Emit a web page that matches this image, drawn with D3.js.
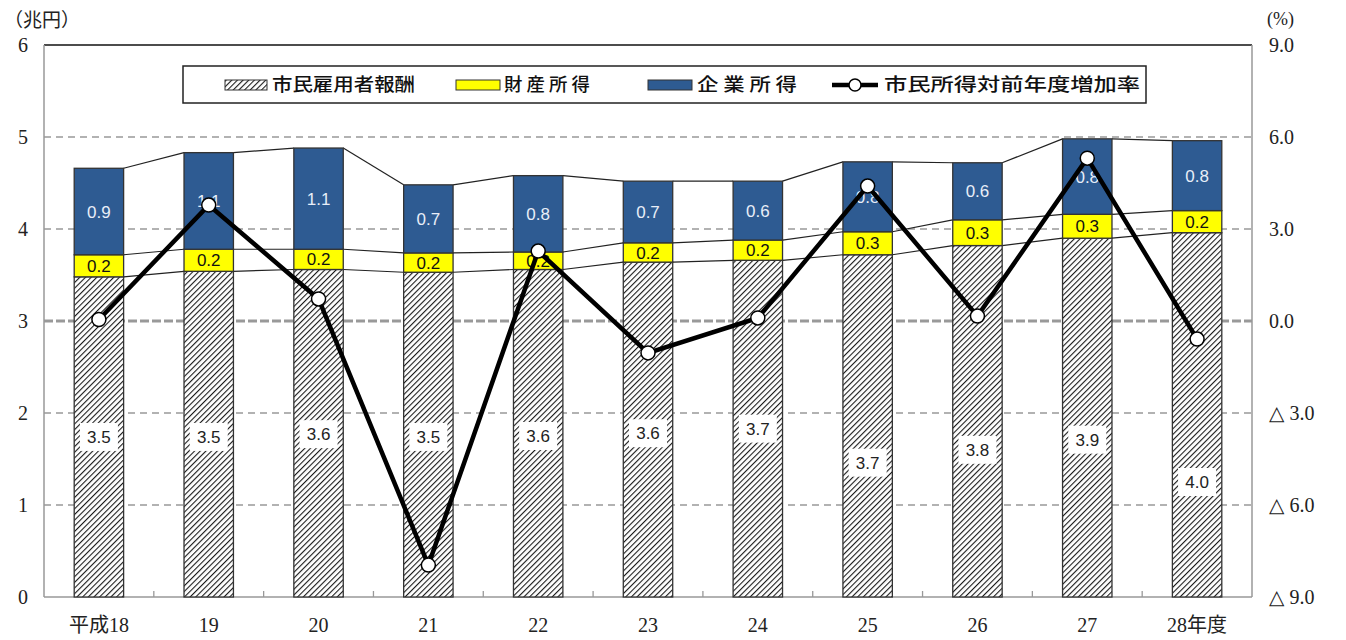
<!DOCTYPE html>
<html>
<head>
<meta charset="utf-8">
<script src="https://cdn.jsdelivr.net/npm/d3@7"></script>
<style>
  body { margin: 0; background: #fff; }
  svg { display: block; }
</style>
</head>
<body>
<script>
// fiscal years
var years = ["平成18", "19", "20", "21", "22", "23", "24", "25", "26", "27", "28年度"];
// 兆円
var compensation = [3.48, 3.54, 3.56, 3.53, 3.56, 3.64, 3.66, 3.72, 3.82, 3.90, 3.96];
var property = [0.24, 0.24, 0.22, 0.21, 0.19, 0.21, 0.22, 0.25, 0.28, 0.26, 0.24];
var corporate = [0.94, 1.05, 1.10, 0.74, 0.83, 0.67, 0.64, 0.76, 0.62, 0.82, 0.76];
// %
var growth = [0.05, 3.78, 0.72, -7.96, 2.28, -1.04, 0.10, 4.40, 0.16, 5.31, -0.59];
var leftTicks = [0, 1, 2, 3, 4, 5, 6];
var rightTicks = [-9, -6, -3, 0, 3, 6, 9];
var legendNames = ["市民雇用者報酬", "財 産 所 得", "企 業 所 得", "市民所得対前年度増加率"];

// where the hatched-bar labels sit (兆円 units), moved off the line like the original
var compLabelAt = [1.74, 1.74, 1.77, 1.74, 1.75, 1.78, 1.83, 1.46, 1.60, 1.71, 1.25];

var width = 1346, height = 640;
var plotL = 44, plotR = 1252, plotT = 45, plotB = 597;

var svg = d3.select("body").append("svg")
    .attr("width", width)
    .attr("height", height);

var defs = svg.append("defs");
var hatch = defs.append("pattern")
    .attr("id", "hatch")
    .attr("patternUnits", "userSpaceOnUse")
    .attr("width", 4)
    .attr("height", 4)
    .attr("patternTransform", "rotate(45)");
hatch.append("rect").attr("width", 4).attr("height", 4).attr("fill", "#fff");
hatch.append("line")
    .attr("x1", 0).attr("y1", 0).attr("x2", 0).attr("y2", 4)
    .attr("stroke", "#1a1a1a").attr("stroke-width", 2.2);

var x = d3.scaleBand().domain(years).range([plotL, plotR]).paddingInner(0.55).paddingOuter(0.275);
var y = d3.scaleLinear().domain([0, 6]).range([plotB, plotT]);
var y2 = d3.scaleLinear().domain([-9, 9]).range([plotB, plotT]);

var serif = "'Liberation Serif', 'DejaVu Serif', 'Noto Sans CJK JP', serif";
var gothic = "'Noto Sans CJK JP', sans-serif";
var sans = "'Liberation Sans', Arial, sans-serif";

// grid
svg.append("g").selectAll("line")
    .data([1, 2, 4, 5])
    .enter().append("line")
    .attr("x1", plotL).attr("x2", plotR)
    .attr("y1", function (d) { return y(d); })
    .attr("y2", function (d) { return y(d); })
    .attr("stroke", "#999")
    .attr("stroke-width", 1.3)
    .attr("stroke-dasharray", "7,5");
svg.append("line")
    .attr("x1", plotL).attr("x2", plotR)
    .attr("y1", y2(0)).attr("y2", y2(0))
    .attr("stroke", "#999")
    .attr("stroke-width", 3)
    .attr("stroke-dasharray", "9,3");

// frame
svg.append("line").attr("x1", plotL).attr("x2", plotR).attr("y1", plotT).attr("y2", plotT)
    .attr("stroke", "#111").attr("stroke-width", 1.5);
svg.append("line").attr("x1", plotL).attr("x2", plotL).attr("y1", plotT).attr("y2", plotB)
    .attr("stroke", "#999").attr("stroke-width", 1.5);
svg.append("line").attr("x1", plotR).attr("x2", plotR).attr("y1", plotT).attr("y2", plotB)
    .attr("stroke", "#999").attr("stroke-width", 1.5);
svg.append("line").attr("x1", plotL).attr("x2", plotR).attr("y1", plotB).attr("y2", plotB)
    .attr("stroke", "#999").attr("stroke-width", 1.5);

// small ticks between categories
var step = x.step();
svg.append("g").selectAll("line")
    .data(years.slice(1))
    .enter().append("line")
    .attr("x1", function (d) { return x(d) + x.bandwidth() / 2 - step / 2; })
    .attr("x2", function (d) { return x(d) + x.bandwidth() / 2 - step / 2; })
    .attr("y1", plotB).attr("y2", plotB - 6)
    .attr("stroke", "#999").attr("stroke-width", 1.3);

// stacks
var rows = years.map(function (yr, i) {
    return { year: yr, comp: compensation[i], prop: property[i], corp: corporate[i] };
});
var stack = d3.stack().keys(["comp", "prop", "corp"])(rows);
var fills = { comp: "url(#hatch)", prop: "#ffff00", corp: "#2e5b92" };

// connector lines between neighbouring bars
stack.forEach(function (layer) {
    var seg = [];
    for (var i = 0; i < layer.length - 1; i++) {
        seg.push({ a: layer[i], b: layer[i + 1], ya: years[i], yb: years[i + 1] });
    }
    svg.append("g").selectAll("line")
        .data(seg)
        .enter().append("line")
        .attr("x1", function (d) { return x(d.ya) + x.bandwidth(); })
        .attr("x2", function (d) { return x(d.yb); })
        .attr("y1", function (d) { return y(d.a[1]); })
        .attr("y2", function (d) { return y(d.b[1]); })
        .attr("stroke", "#222")
        .attr("stroke-width", 1.2);
});

svg.append("g").selectAll("g")
    .data(stack)
    .enter().append("g")
    .attr("fill", function (d) { return fills[d.key]; })
    .selectAll("rect")
    .data(function (d) { return d; })
    .enter().append("rect")
    .attr("x", function (d) { return x(d.data.year); })
    .attr("width", x.bandwidth())
    .attr("y", function (d) { return y(d[1]); })
    .attr("height", function (d) { return y(d[0]) - y(d[1]); })
    .attr("stroke", "#333")
    .attr("stroke-width", 1.3);

// labels
var cx = function (yr) { return x(yr) + x.bandwidth() / 2; };

var compLab = svg.append("g").selectAll("g")
    .data(rows)
    .enter().append("g")
    .attr("transform", function (d, i) { return "translate(" + cx(d.year) + "," + y(compLabelAt[i]) + ")"; });
compLab.append("rect")
    .attr("x", -19).attr("y", -14).attr("width", 38).attr("height", 28)
    .attr("fill", "#fff");
compLab.append("text")
    .attr("text-anchor", "middle")
    .attr("dy", "0.36em")
    .attr("font-family", sans)
    .attr("font-size", 17)
    .attr("fill", "#222")
    .text(function (d) { return d.comp.toFixed(1); });

svg.append("g").selectAll("text")
    .data(stack[1])
    .enter().append("text")
    .attr("x", function (d) { return cx(d.data.year); })
    .attr("y", function (d) { return y((d[0] + d[1]) / 2); })
    .attr("text-anchor", "middle")
    .attr("dy", "0.36em")
    .attr("font-family", sans)
    .attr("font-size", 17)
    .attr("fill", "#111")
    .text(function (d) { return d.data.prop.toFixed(1); });

svg.append("g").selectAll("text")
    .data(stack[2])
    .enter().append("text")
    .attr("x", function (d) { return cx(d.data.year); })
    .attr("y", function (d) { return y((d[0] + d[1]) / 2); })
    .attr("text-anchor", "middle")
    .attr("dy", "0.36em")
    .attr("font-family", sans)
    .attr("font-size", 17)
    .attr("fill", "#e8eef8")
    .text(function (d) { return d.data.corp.toFixed(1); });

// growth line
var line = d3.line()
    .x(function (d, i) { return cx(years[i]); })
    .y(function (d) { return y2(d); });
svg.append("path")
    .datum(growth)
    .attr("d", line)
    .attr("fill", "none")
    .attr("stroke", "#000")
    .attr("stroke-width", 4.5);
svg.append("g").selectAll("circle")
    .data(growth)
    .enter().append("circle")
    .attr("cx", function (d, i) { return cx(years[i]); })
    .attr("cy", function (d) { return y2(d); })
    .attr("r", 7)
    .attr("fill", "#fff")
    .attr("stroke", "#000")
    .attr("stroke-width", 1.5);

// axes text
svg.append("g").selectAll("text")
    .data(leftTicks)
    .enter().append("text")
    .attr("x", 28)
    .attr("y", function (d) { return y(d); })
    .attr("dy", "0.35em")
    .attr("text-anchor", "end")
    .attr("font-family", serif)
    .attr("font-size", 20)
    .attr("fill", "#222")
    .text(function (d) { return d; });

svg.append("g").selectAll("text")
    .data(rightTicks)
    .enter().append("text")
    .attr("x", 1269)
    .attr("y", function (d) { return y2(d); })
    .attr("dy", "0.35em")
    .attr("font-family", serif)
    .attr("font-size", 20)
    .attr("fill", "#222")
    .text(function (d) {
        return d < 0 ? "△ " + Math.abs(d).toFixed(1) : d.toFixed(1);
    });

svg.append("g").selectAll("text")
    .data(years)
    .enter().append("text")
    .attr("x", function (d) { return cx(d); })
    .attr("y", 632)
    .attr("text-anchor", "middle")
    .attr("font-family", serif)
    .attr("font-size", 20)
    .attr("fill", "#222")
    .text(function (d) { return d; });

svg.append("text")
    .attr("x", 4).attr("y", 27)
    .attr("font-family", serif)
    .attr("font-size", 19)
    .attr("fill", "#222")
    .text("（兆円）");
svg.append("text")
    .attr("x", 1267).attr("y", 25)
    .attr("font-family", serif)
    .attr("font-size", 18)
    .attr("fill", "#222")
    .text("(%)");

// legend
var legend = svg.append("g");
legend.append("rect")
    .attr("x", 183).attr("y", 66).attr("width", 963).attr("height", 37)
    .attr("fill", "#fff")
    .attr("stroke", "#222")
    .attr("stroke-width", 1.5);

var ly = 85;
legend.append("rect").attr("x", 225).attr("y", ly - 5).attr("width", 42).attr("height", 10)
    .attr("fill", "url(#hatch)").attr("stroke", "#333");
legend.append("rect").attr("x", 456).attr("y", ly - 5).attr("width", 44).attr("height", 10)
    .attr("fill", fills.prop).attr("stroke", "#333");
legend.append("rect").attr("x", 648).attr("y", ly - 5).attr("width", 44).attr("height", 10)
    .attr("fill", fills.corp).attr("stroke", "#333");
legend.append("line").attr("x1", 832).attr("x2", 878).attr("y1", ly).attr("y2", ly)
    .attr("stroke", "#000").attr("stroke-width", 4.5);
legend.append("circle").attr("cx", 855).attr("cy", ly).attr("r", 6)
    .attr("fill", "#fff").attr("stroke", "#000").attr("stroke-width", 1.5);

var legendX = [272, 504, 697, 884];
var legendW = [143, 86, 100, 256];
legend.selectAll("text.lg")
    .data(legendNames)
    .enter().append("text")
    .attr("class", "lg")
    .attr("x", function (d, i) { return legendX[i]; })
    .attr("y", ly)
    .attr("dy", "0.36em")
    .attr("font-family", gothic)
    .attr("font-size", 18)
    .attr("font-weight", 500)
    .attr("textLength", function (d, i) { return legendW[i]; })
    .attr("lengthAdjust", "spacingAndGlyphs")
    .attr("fill", "#111")
    .text(function (d) { return d; });
</script>
</body>
</html>
